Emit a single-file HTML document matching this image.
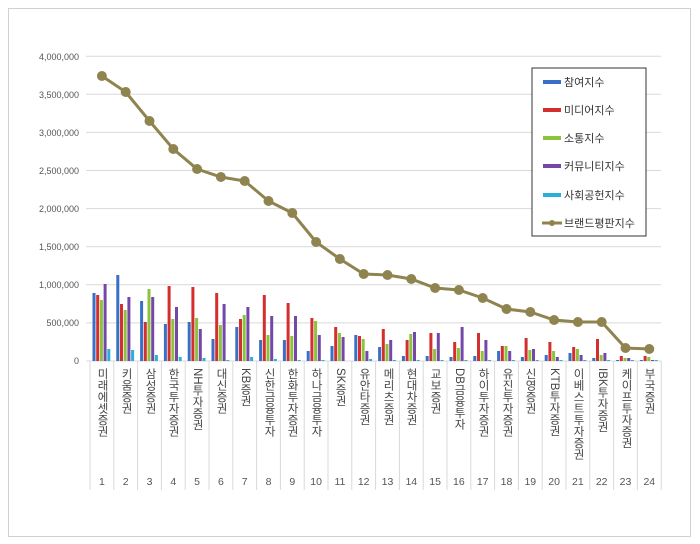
<!DOCTYPE html>
<html><head><meta charset="utf-8"><style>
body{margin:0;background:#fff;width:700px;height:544px;overflow:hidden;font-family:"Liberation Sans","Noto Sans CJK KR",sans-serif}
.v{position:absolute;top:368px;writing-mode:vertical-rl;text-orientation:mixed;font-size:11.5px;color:#444;width:24px;line-height:24px;text-align:left;letter-spacing:0px}
</style></head><body>
<div style="position:absolute;left:8px;top:8px;width:681px;height:527px;border:1px solid #d0d0d0"></div>
<svg id="s" width="700" height="544" style="position:absolute;left:0;top:0" font-family="Liberation Sans, Noto Sans CJK KR, sans-serif">
<g font-size="9" fill="#555" text-anchor="end">
<text x="79" y="364">0</text><text x="79" y="326">500,000</text><text x="79" y="288">1,000,000</text><text x="79" y="250">1,500,000</text><text x="79" y="212">2,000,000</text><text x="79" y="174">2,500,000</text><text x="79" y="136">3,000,000</text><text x="79" y="98">3,500,000</text><text x="79" y="60">4,000,000</text>
</g>
<g font-size="10.5" fill="#555" text-anchor="middle" id="nums"></g>
<g id="g"></g>
<g>
<rect x="532" y="68" width="114" height="168" fill="#fff" stroke="#333" stroke-width="1"/>
<rect x="543" y="80" width="18" height="4" fill="#3a6fc6"/><text x="564" y="86" font-size="11" fill="#333">참여지수</text>
<rect x="543" y="108" width="18" height="4" fill="#d32f2f"/><text x="564" y="114" font-size="11" fill="#333">미디어지수</text>
<rect x="543" y="136" width="18" height="4" fill="#8dc33c"/><text x="564" y="142" font-size="11" fill="#333">소통지수</text>
<rect x="543" y="164" width="18" height="4" fill="#7448a8"/><text x="564" y="170" font-size="11" fill="#333">커뮤니티지수</text>
<rect x="543" y="193" width="18" height="4" fill="#2ab0d8"/><text x="564" y="199" font-size="11" fill="#333">사회공헌지수</text>
<line x1="542" y1="223" x2="562" y2="223" stroke="#8f8450" stroke-width="3"/><circle cx="552" cy="223" r="3" fill="#8f8450"/><text x="564" y="227" font-size="11" fill="#333">브랜드평판지수</text>
</g>
</svg>
<div class="v" style="left:90px">미래에셋증권</div>
<div class="v" style="left:114px">키움증권</div>
<div class="v" style="left:138px">삼성증권</div>
<div class="v" style="left:161px">한국투자증권</div>
<div class="v" style="left:185px">NH투자증권</div>
<div class="v" style="left:209px">대신증권</div>
<div class="v" style="left:233px">KB증권</div>
<div class="v" style="left:257px">신한금융투자</div>
<div class="v" style="left:280px">한화투자증권</div>
<div class="v" style="left:304px">하나금융투자</div>
<div class="v" style="left:328px">SK증권</div>
<div class="v" style="left:352px">유안타증권</div>
<div class="v" style="left:376px">메리츠증권</div>
<div class="v" style="left:399px">현대차증권</div>
<div class="v" style="left:423px">교보증권</div>
<div class="v" style="left:447px">DB금융투자</div>
<div class="v" style="left:471px">하이투자증권</div>
<div class="v" style="left:495px">유진투자증권</div>
<div class="v" style="left:518px">신영증권</div>
<div class="v" style="left:542px">KTB투자증권</div>
<div class="v" style="left:566px">이베스트투자증권</div>
<div class="v" style="left:590px">IBK투자증권</div>
<div class="v" style="left:614px">케이프투자증권</div>
<div class="v" style="left:637px">부국증권</div>
<script>
var NS="http://www.w3.org/2000/svg",g=document.getElementById("g"),nm=document.getElementById("nums");
function el(t,a,p){var e=document.createElementNS(NS,t);for(var k in a)e.setAttribute(k,a[k]);(p||g).appendChild(e);return e;}
var x0=90,w=23.8,base=361;
for(var i=1;i<=8;i++)el("line",{x1:86,x2:661,y1:base-i*38.1,y2:base-i*38.1,stroke:"#d9d9d9","stroke-width":1});
el("line",{x1:86,x2:661,y1:base,y2:base,stroke:"#d9d9d9"});
for(var i=0;i<=24;i++)el("line",{x1:x0+i*w,x2:x0+i*w,y1:base,y2:490,stroke:"#d9d9d9"});
var B=[[293,295,300,284,349],[275,304,310,297,350],[301,322,289,297,355],[324,286,319,307,357],[322,287,318,329,358],[339,293,325,304,360],[327,319,315,307,357],[340,295,335,316,359],[340,303,336,316,360],[351,318,321,335,360],[346,327,333,337,361],[335,336,339,351,359],[347,329,344,340,360],[356,340,334,332,360],[356,333,349,333,360],[357,342,348,327,360],[356,333,351,340,360],[351,346,346,351,360],[357,338,350,349,360],[355,342,351,357,360],[353,347,349,355,360],[358,339,355,353,360],[360,356,358,358,360],[360,356,357,360,360]];
var C=["#3a6fc6","#d32f2f","#8dc33c","#7448a8","#2ab0d8"];
var L=[76,92,121,149,169,177,181,201,213,242,259,274,275,279,288,290,298,309,312,320,322,322,348,349];
for(var i=0;i<24;i++){var cx=x0+i*w;
for(var j=0;j<5;j++){var t=B[i][j];if(t<base)el("rect",{x:cx+2.5+j*3.7,y:t,width:3,height:base-t,fill:C[j]});}
var tx=el("text",{x:cx+w/2,y:485},nm);tx.textContent=String(i+1);}
var pts=L.map(function(y,i){return (x0+i*w+w/2)+","+y}).join(" ");
el("polyline",{points:pts,fill:"none",stroke:"#8f8450","stroke-width":3});
L.forEach(function(y,i){el("circle",{cx:x0+i*w+w/2,cy:y,r:5,fill:"#8f8450"});});
</script>
</body></html>
